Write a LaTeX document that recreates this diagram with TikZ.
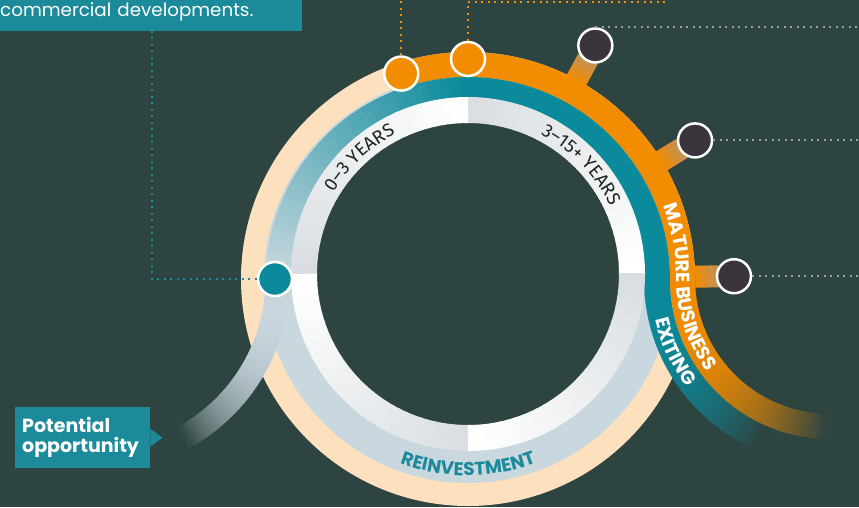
\documentclass[tikz,border=0pt]{standalone}
\usepackage{fontspec}
\setmainfont{Poppins}
\newfontfamily\yearsfont{Fira Sans}
\usetikzlibrary{calc, decorations.text}

\definecolor{slate}{HTML}{2E4441}
\definecolor{matureorange}{HTML}{F28C00}
\definecolor{peach}{HTML}{FDE0BD}
\definecolor{exitteal}{HTML}{0B8A9B}
\definecolor{reinvest}{HTML}{C9D8DF}
\definecolor{boxteal}{HTML}{1B8A9A}
\definecolor{nodegrey}{HTML}{3A353D}
\definecolor{ringgrey}{HTML}{D8DDE1}
\definecolor{dotgrey}{HTML}{9AA3A3}
\definecolor{stubtan}{HTML}{C0915C}
\definecolor{yearsink}{HTML}{1E2424}

\begin{document}
\begin{tikzpicture}[x=1pt, y=1pt,
		hub/.style={circle, draw=white, line width=2.5pt, minimum size=34pt, inner sep=0pt},
		dots/.style={line width=2pt, dash pattern=on 2pt off 4.5pt},
		tag/.style={fill=boxteal, text=white, inner sep=0pt}
		]
	\fill[slate] (0,0) rectangle (859,-507);
	\useasboundingbox (0,0) rectangle (859,-507);

	% text boxes
	\node[tag, anchor=south west, text width=302pt, text height=30pt, text depth=14pt,
		font=\fontsize{18.3}{20}\selectfont] (intro) at (0,-31) {commercial developments.};
	\node[tag, anchor=north west, text width=121pt, minimum height=61pt, inner xsep=7pt, align=left,
		font=\bfseries\fontsize{19}{20}\selectfont] (opp) at (15,-407) {Potential\\opportunity};
	\fill[boxteal] ($(opp.east)+(0,9)$) -- ($(opp.east)+(12,0)$) -- ($(opp.east)+(0,-9)$) -- cycle;

	\begin{scope}[shift={(468,-279)}]
		% base rings
		\draw[peach, line width=25pt] (0,0) circle[radius=214.5];
		\draw[reinvest, line width=34pt] (0,0) circle[radius=187];

		% potential opportunity tail
		\foreach \a in {0,-1,...,-60}{
			\pgfmathsetmacro\t{-\a/61}
			\pgfmathtruncatemacro\p{100*(1-\t^3)}
			\draw[line width=24pt, reinvest!\p!slate] ([shift={(\a:180.5)}]-371,0) arc[start angle=\a, delta angle=-1.5, radius=180.5];
		}

		% mature business / exiting arcs
		\draw[matureorange, line width=25pt] (0:214.5) arc[start angle=0, end angle=108, radius=214.5];
		\draw[exitteal, line width=26pt] (0:189) arc[start angle=0, end angle=94, radius=189];
		\foreach \a in {180,178,...,92}{
			\pgfmathtruncatemacro\p{(\a-92)*100/88}
			\draw[line width=26pt, reinvest!\p!exitteal] (\a:189) arc[start angle=\a, delta angle=-2.5, radius=189];
		}

		% tails running off to the bottom right
		\foreach \a in {180,181,...,246}{
			\pgfmathsetmacro\t{(\a-180)/66}
			\pgfmathtruncatemacro\p{100*(1-\t^2.6)}
			\draw[line width=26pt, exitteal!\p!slate] ([shift={(\a:173)}]362,0) arc[start angle=\a, delta angle=1.5, radius=173];
		}
		\foreach \a in {180,181,...,268}{
			\pgfmathsetmacro\t{(\a-180)/88}
			\pgfmathtruncatemacro\p{100*(1-\t^2.6)}
			\draw[line width=25pt, matureorange!\p!slate] ([shift={(\a:147.5)}]362,0) arc[start angle=\a, delta angle=1.5, radius=147.5];
		}

		% inner ring, each quarter grey -> white
		\foreach \q in {0,90,180,270}
			\foreach \s in {0,3,...,87}{
				\pgfmathsetmacro\a{\q+\s}
				\pgfmathtruncatemacro\p{\s*100/90}
				\draw[line width=26pt, ringgrey!\p!white] ([shift={(\a:164)}]0,5) arc[start angle=\a, delta angle=3.3, radius=164];
			}

		% labels along the rings
		\path[decorate, decoration={text along path, text align=center, text color=yearsink,
				text={|\yearsfont\fontsize{18.5}{18}\selectfont|0–3 YEARS}}]
			([shift={(165:157.5)}]0,5) arc[start angle=165, end angle=101, radius=157.5];
		\path[decorate, decoration={text along path, text align=center, text color=yearsink,
				text={|\yearsfont\fontsize{18.5}{18}\selectfont|3–15+ YEARS}}]
			([shift={(76:157.5)}]0,5) arc[start angle=76, end angle=12, radius=157.5];
		\path[decorate, decoration={text along path, text color=white,
				text={|\bfseries\fontsize{19}{18}\selectfont|MATURE BUSINESS}}]
			(20.5:208.5) arc[start angle=20.5, end angle=0, radius=208.5]
			arc[start angle=180, end angle=250, radius=153.5];
		\path[decorate, decoration={text along path, text color=white,
				text={|\bfseries\fontsize{19}{18}\selectfont|EXITING}}]
			([shift={(193:179.5)}]362,0) arc[start angle=193, end angle=250, radius=179.5];
		\path[decorate, decoration={text along path, text align=center, text color=boxteal,
				text={|\bfseries\fontsize{18.5}{18}\selectfont|REINVESTMENT}}]
			(-125:196.5) arc[start angle=-125, end angle=-55, radius=196.5];

		% stubs and milestone nodes
		\foreach \a/\n in {61.4/0, 31.4/1, 0.6/2}{
			\foreach \i in {0,...,7}{
				\pgfmathsetmacro\r{224+\i*3.3}
				\pgfmathsetmacro\rr{\r+3.6}
				\pgfmathtruncatemacro\p{100-\i*13}
				\draw[line width=22pt, matureorange!\p!stubtan] (\a:\r) -- (\a:\rr);
			}
			\node[hub, fill=nodegrey] (D\n) at (\a:266) {};
		}
		\node[hub, fill=matureorange] (O1) at (108:216) {};
		\node[hub, fill=matureorange] (O2) at (90:220) {};
		\node[hub, fill=exitteal] (T) at (180:193) {};
	\end{scope}

	% leader lines
	\coordinate (drop) at (152,-31);
	\coordinate (rim) at (0,0);
	\coordinate (lead) at (668,-2);
	\coordinate (edge) at (859,0);
	\draw[dots, boxteal] (T.west) -| (drop);
	\draw[dots, matureorange] (O1.north) -- (O1.north |- rim);
	\draw[dots, matureorange] (O2.north) |- (lead);
	\draw[dots, dotgrey] (D0.north) -- (D0.north -| edge);
	\draw[dots, dotgrey] (D1.east) -- (D1.east -| edge);
	\draw[dots, dotgrey] (D2.east) -- (D2.east -| edge);
\end{tikzpicture}
\end{document}
